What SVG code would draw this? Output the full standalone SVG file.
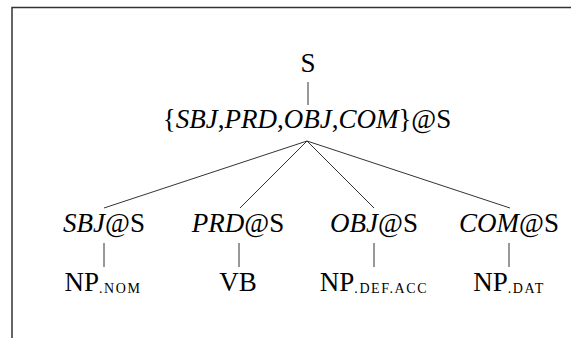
<svg xmlns="http://www.w3.org/2000/svg" width="571" height="338" viewBox="0 0 571 338">
<style>
.t{font-family:'Liberation Serif','Times New Roman',serif;font-size:27px;fill:#000;text-anchor:middle}
.i{font-style:italic}
.sub{font-size:14px;letter-spacing:1.6px}
.ln{stroke:#333;stroke-width:1;fill:none}
.fr{stroke:#333;stroke-width:1.5;fill:none}
</style>
<rect width="571" height="338" fill="#fff"/>
<path class="fr" d="M12,338 V7.5 H571"/>
<g id="connectors">
<line class="ln" x1="308" y1="82" x2="308" y2="105"/>
<line class="ln" x1="307" y1="141" x2="104" y2="208"/>
<line class="ln" x1="307" y1="141" x2="240" y2="208"/>
<line class="ln" x1="307" y1="141" x2="374" y2="208"/>
<line class="ln" x1="307" y1="141" x2="510" y2="208"/>
<line class="ln" x1="104" y1="243" x2="104" y2="267"/>
<line class="ln" x1="239" y1="243" x2="239" y2="267"/>
<line class="ln" x1="374" y1="243" x2="374" y2="267"/>
<line class="ln" x1="509" y1="243" x2="509" y2="267"/>
</g>
<g id="n-S"><text class="t" x="308" y="72">S</text></g>
<g id="n-set"><text class="t" x="307" y="128">{<tspan class="i">SBJ</tspan>,<tspan class="i">PRD</tspan>,<tspan class="i">OBJ</tspan>,<tspan class="i">COM</tspan>}@S</text></g>
<g id="n-sbj"><text class="t" x="104" y="232"><tspan class="i">SBJ</tspan>@S</text></g>
<g id="n-prd"><text class="t" x="238" y="232"><tspan class="i">PRD</tspan>@S</text></g>
<g id="n-obj"><text class="t" x="374" y="232"><tspan class="i">OBJ</tspan>@S</text></g>
<g id="n-com"><text class="t" x="509" y="232"><tspan class="i">COM</tspan>@S</text></g>
<g id="n-np1"><text class="t" x="103" y="291">NP<tspan class="sub" dy="2">.NOM</tspan></text></g>
<g id="n-vb"><text class="t" x="238" y="291">VB</text></g>
<g id="n-np2"><text class="t" x="374" y="291">NP<tspan class="sub" dy="2">.DEF.ACC</tspan></text></g>
<g id="n-np3"><text class="t" x="509" y="291">NP<tspan class="sub" dy="2">.DAT</tspan></text></g>
</svg>
